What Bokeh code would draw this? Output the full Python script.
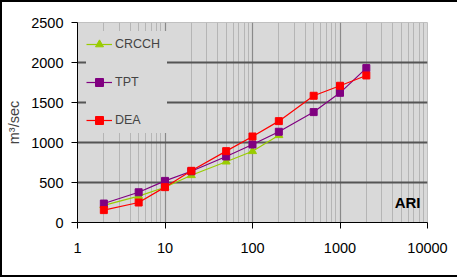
from bokeh.plotting import figure
from bokeh.models import ColumnDataSource, Legend, LegendItem, FixedTicker, Label, Range1d, CustomJSTickFormatter
from bokeh.embed import file_html
from bokeh.resources import INLINE

ari_crcch = [2, 5, 10, 20, 50, 100, 200]
q_crcch = [215, 330, 440, 590, 760, 890, 1090]

ari_tpt = [2, 5, 10, 20, 50, 100, 200, 500, 1000, 2000]
q_tpt = [237, 378, 520, 640, 825, 975, 1134, 1380, 1621, 1930]

ari_dea = [2, 5, 10, 20, 50, 100, 200, 500, 1000, 2000]
q_dea = [155, 250, 442, 646, 892, 1075, 1267, 1584, 1709, 1838]

x_ticks = [1, 10, 100, 1000, 10000]
y_ticks = [0, 500, 1000, 1500, 2000, 2500]

minor = [m * d for d in [1, 10, 100, 1000] for m in range(2, 10)]

FONT = "Liberation Sans"

p = figure(x_axis_type="log", output_backend="svg", toolbar_location=None,
           frame_width=350, frame_height=200,
           min_border_left=75, min_border_top=20, min_border_right=30, min_border_bottom=53,
           x_range=Range1d(1, 10000), y_range=Range1d(0, 2500),
           background_fill_color="white", border_fill_color="white")
p.styles = {"border-top": "2px solid black", "border-left": "2px solid black",
            "border-bottom": "2px solid black"}
p.background_fill_color = "#d9d9d9"
p.outline_line_color = "#c0c0c0"

p.xaxis.ticker = FixedTicker(ticks=x_ticks, minor_ticks=minor)
p.yaxis.ticker = FixedTicker(ticks=y_ticks)
for ax in (p.xaxis[0], p.yaxis[0]):
    ax.axis_line_color = "black"
    ax.major_tick_line_color = "black"
    ax.major_tick_out = 6
    ax.major_tick_in = 0
    ax.minor_tick_line_color = None
    ax.major_label_text_font = FONT
    ax.major_label_text_font_size = "14.5px"
    ax.major_label_text_color = "black"
p.xaxis.major_label_standoff = 14
p.yaxis.major_label_standoff = 8
p.xaxis.formatter = CustomJSTickFormatter(code="return String(Math.round(tick));")
p.yaxis.axis_label = "m³/sec"
p.yaxis.axis_label_text_font = FONT
p.yaxis.axis_label_text_font_style = "normal"
p.yaxis.axis_label_text_font_size = "14.5px"
p.yaxis.axis_label_standoff = 6

p.ygrid.grid_line_color = "#555555"
p.ygrid.grid_line_width = 2
p.xgrid.grid_line_color = "#8a8a8a"
p.xgrid.grid_line_width = 1.2
p.xgrid.minor_grid_line_color = "#b5b5b5"
p.xgrid.minor_grid_line_width = 1

src_c = ColumnDataSource(dict(x=ari_crcch, y=q_crcch))
src_t = ColumnDataSource(dict(x=ari_tpt, y=q_tpt))
src_d = ColumnDataSource(dict(x=ari_dea, y=q_dea))

lc = p.line("x", "y", source=src_c, color="#99cc00", line_width=1.2)
mc = p.scatter("x", "y", source=src_c, marker="triangle", size=8, color="#99cc00")
lt = p.line("x", "y", source=src_t, color="#800080", line_width=1.2)
mt = p.scatter("x", "y", source=src_t, marker="square", size=7, color="#800080")
ld = p.line("x", "y", source=src_d, color="#ff0000", line_width=1.2)
md = p.scatter("x", "y", source=src_d, marker="square", size=7, color="#ff0000")

legend = Legend(items=[LegendItem(label="CRCCH", renderers=[lc, mc]),
                       LegendItem(label="TPT", renderers=[lt, mt]),
                       LegendItem(label="DEA", renderers=[ld, md])],
                location=(9, 89), margin=0, padding=8, spacing=12,
                glyph_width=26, glyph_height=20, label_height=26, label_standoff=3,
                label_width=52,
                label_text_font=FONT, label_text_font_size="12.5px",
                background_fill_color="#d9d9d9", background_fill_alpha=1,
                border_line_color=None)
p.add_layout(legend, "center")

p.add_layout(Label(x=343, y=12, x_units="screen", y_units="screen", text="ARI",
                   text_font=FONT, text_font_size="15px", text_font_style="bold",
                   text_align="right", text_color="black"))

open("out.html", "w").write(file_html(p, INLINE))
